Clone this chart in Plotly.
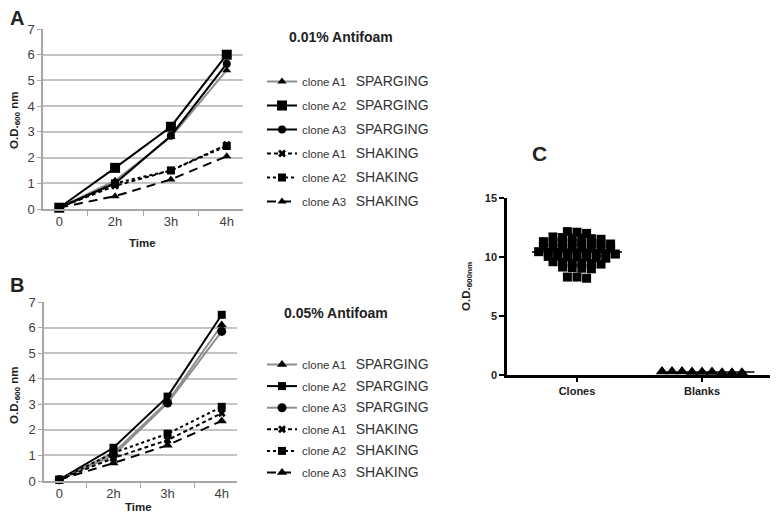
import plotly.graph_objects as go

# the page body keeps its default 8px margin, so the figure is sized to fit inside the window
OFF = 8
W, H = 778 - 2 * OFF, 523 - 2 * OFF

# ---- data ----
times = ["0", "2h", "3h", "4h"]
clone_names = ["clone A1", "clone A2", "clone A3", "clone A1", "clone A2", "clone A3"]
methods = ["SPARGING", "SPARGING", "SPARGING", "SHAKING", "SHAKING", "SHAKING"]

# panel A, 0.01% antifoam
a_sp_a1 = [0.05, 1.1, 2.8, 5.4]
a_sp_a2 = [0.05, 1.6, 3.2, 6.0]
a_sp_a3 = [0.05, 1.0, 2.85, 5.65]
a_sh_a1 = [0.05, 0.9, 1.5, 2.5]
a_sh_a2 = [0.05, 1.0, 1.5, 2.45]
a_sh_a3 = [0.05, 0.5, 1.15, 2.05]

# panel B, 0.05% antifoam
b_sp_a1 = [0.05, 1.1, 3.1, 6.1]
b_sp_a2 = [0.05, 1.3, 3.3, 6.5]
b_sp_a3 = [0.05, 1.0, 3.05, 5.85]
b_sh_a1 = [0.05, 0.9, 1.6, 2.65]
b_sh_a2 = [0.05, 1.1, 1.85, 2.9]
b_sh_a3 = [0.05, 0.7, 1.4, 2.35]

# panel C
groups = ["Clones", "Blanks"]
clones = [12.1, 12.0, 12.15,
          11.6, 11.55, 11.65, 11.6, 11.5, 11.7,
          11.2, 11.15, 11.25, 11.2, 11.1, 11.3, 11.2, 11.15,
          10.8, 10.75, 10.85, 10.8, 10.7, 10.9, 10.8, 10.75,
          10.35, 10.3, 10.4, 10.35, 10.25, 10.45, 10.35, 10.3, 10.4,
          10.0, 9.95, 10.05, 10.0, 9.9, 10.05, 10.0,
          9.5, 9.45, 9.55, 9.5, 9.4, 9.6,
          9.1, 9.05, 9.15, 9.0,
          8.3, 8.2, 8.3]
blanks = [0.2, 0.25, 0.3, 0.2, 0.25, 0.3, 0.2, 0.3, 0.25]

FONT = "Arial, Liberation Sans, sans-serif"


def px(x):
    return (x - OFF) / W


def py(y):
    return 1 - (y - OFF) / H


# styles: (line colour, dash, symbol, marker size)
GRAY = "#8e8e8e"
styles_a = [(GRAY, "solid", "triangle-up", 8),
            ("black", "solid", "square", 10),
            ("black", "solid", "circle", 8),
            ("black", "4px,3px", "x", 7),
            ("black", "dot", "square", 8),
            ("black", "9px,6px", "triangle-up", 8)]
styles_b = [(GRAY, "solid", "triangle-up", 9),
            ("black", "solid", "square", 8),
            (GRAY, "solid", "circle", 9),
            ("black", "4px,3px", "x", 7),
            ("black", "dot", "square", 8),
            ("black", "9px,6px", "triangle-up", 9)]

fig = go.Figure()


def add_panel(series, styles, xa, ya, legend, tag):
    for i, (vals, st) in enumerate(zip(series, styles)):
        col, dash, sym, size = st
        name = (clone_names[i] + "\u00a0\u00a0\u00a0"
                + "<span style='font-size:14px'>" + methods[i] + "</span>")
        fig.add_trace(go.Scatter(
            x=times, y=vals, xaxis=xa, yaxis=ya, mode="lines+markers",
            name=name, legend=legend, legendgroup=tag + str(i),
            line=dict(color=col, width=2, dash=dash),
            marker=dict(symbol=sym, size=size, color="black"),
            cliponaxis=False))


add_panel([a_sp_a1, a_sp_a2, a_sp_a3, a_sh_a1, a_sh_a2, a_sh_a3], styles_a, "x", "y", "legend", "a")
add_panel([b_sp_a1, b_sp_a2, b_sp_a3, b_sh_a1, b_sh_a2, b_sh_a3], styles_b, "x2", "y2", "legend2", "b")

# panel C geometry (page pixels), also used for the dot layout
c_dom_x = [507, 770]
c_dom_y = [375, 198]
c_xrange = [0.44, 2.544]
c_yrange = [0, 15]
ppu_x = (c_dom_x[1] - c_dom_x[0]) / (c_xrange[1] - c_xrange[0])


def dot_rows(values, spacing, row_h):
    # prism-style scatter dot plot: close values share a row, each row centred on the group
    order = sorted(range(len(values)), key=lambda k: -values[k])
    rows, cur = [], []
    for k in order:
        if cur and values[cur[0]] - values[k] >= row_h:
            rows.append(cur)
            cur = []
        cur.append(k)
    rows.append(cur)
    offs = [0.0] * len(values)
    for row in rows:
        n = len(row)
        for j, k in enumerate(row):
            offs[k] = (j - (n - 1) / 2) * spacing / ppu_x
    return offs


clone_off = dot_rows(clones, 9.6, 0.28)
blank_off = dot_rows(blanks, 10, 0.28)

fig.add_trace(go.Scatter(
    x=[1 + o for o in clone_off], y=clones, xaxis="x3", yaxis="y3", mode="markers",
    marker=dict(symbol="square", size=9, color="black"), showlegend=False, cliponaxis=False))
fig.add_trace(go.Scatter(
    x=[2 + o for o in blank_off], y=blanks, xaxis="x3", yaxis="y3", mode="markers",
    marker=dict(symbol="triangle-up", size=11, color="black"), showlegend=False, cliponaxis=False))

clone_mean = sum(clones) / len(clones)
blank_mean = sum(blanks) / len(blanks)
fig.add_trace(go.Scatter(x=[1 - 0.36, 1 + 0.36], y=[clone_mean] * 2, xaxis="x3", yaxis="y3",
                         mode="lines", line=dict(color="black", width=1.5), showlegend=False,
                         cliponaxis=False))
fig.add_trace(go.Scatter(x=[2 - 0.34, 2 + 0.42], y=[blank_mean] * 2, xaxis="x3", yaxis="y3",
                         mode="lines", line=dict(color="black", width=1.5), showlegend=False,
                         cliponaxis=False))

axcol = "#a6a6a6"
xcommon = dict(type="category", showline=True, linecolor=axcol, linewidth=1.5,
               ticks="outside", tickson="boundaries", ticklen=5, tickcolor=axcol,
               tickfont=dict(size=13, color="#404040"), showgrid=False, zeroline=False,
               automargin=False)
ycommon = dict(range=[0, 7], dtick=1, showline=True, linecolor=axcol, linewidth=1.5,
               ticks="outside", ticklen=4, tickcolor=axcol, showgrid=True,
               gridcolor="#c4c4c4", gridwidth=1.5, zeroline=False,
               tickfont=dict(size=13, color="#404040"), automargin=False)

legcommon = dict(xanchor="left", yanchor="top", bgcolor="rgba(0,0,0,0)",
                 font=dict(family=FONT, size=11.5, color="#333333"), itemwidth=30)

fig.update_layout(
    width=W, height=H, margin=dict(l=0, r=0, t=0, b=0, autoexpand=False),
    paper_bgcolor="white", plot_bgcolor="white",
    font=dict(family=FONT, color="#333333"),
    xaxis=dict(domain=[px(43), px(243)], anchor="y", **xcommon),
    yaxis=dict(domain=[py(209), py(29)], anchor="x", **ycommon),
    xaxis2=dict(domain=[px(44), px(237)], anchor="y2", **xcommon),
    yaxis2=dict(domain=[py(481), py(302)], anchor="x2", **ycommon),
    xaxis3=dict(domain=[px(c_dom_x[0]), px(c_dom_x[1])], anchor="y3", range=c_xrange,
                tickvals=[1, 2], ticktext=groups, showline=True, linecolor="black",
                linewidth=2.5, ticks="outside", ticklen=4, tickwidth=2, tickcolor="black",
                tickfont=dict(size=11, color="#222222", weight="bold"),
                showgrid=False, zeroline=False, automargin=False),
    yaxis3=dict(domain=[py(c_dom_y[0]), py(c_dom_y[1])], anchor="x3", range=c_yrange,
                tickvals=[0, 5, 10, 15], showline=True, linecolor="black", linewidth=2.5,
                ticks="outside", ticklen=5, tickwidth=2, tickcolor="black",
                tickfont=dict(size=11, color="#222222", weight="bold"),
                showgrid=False, zeroline=False, automargin=False),
    legend=dict(x=px(262), y=py(67), tracegroupgap=5, **legcommon),
    legend2=dict(x=px(262), y=py(350), tracegroupgap=2.6, **legcommon),
)

ann = [
    dict(text="<b>A</b>", x=px(8), y=py(18), size=20, ya="middle"),
    dict(text="<b>B</b>", x=px(8), y=py(285), size=20, ya="middle"),
    dict(text="<b>C</b>", x=px(530), y=py(153), size=21, ya="middle"),
    dict(text="<b>0.01% Antifoam</b>", x=px(287), y=py(37), size=14, ya="middle"),
    dict(text="<b>0.05% Antifoam</b>", x=px(282), y=py(313), size=14, ya="middle"),
    dict(text="<b>Time</b>", x=px(127), y=py(243), size=11.5, ya="middle"),
    dict(text="<b>Time</b>", x=px(123), y=0, size=11.5, ya="bottom"),
]
for a in ann:
    fig.add_annotation(text=a["text"], x=a["x"], y=a["y"], xref="paper", yref="paper",
                       xanchor="left", yanchor=a["ya"], showarrow=False,
                       font=dict(family=FONT, size=a["size"], color="#222222"))

for xc, yc, lab in [(15, 120, "<b>O.D.<sub>600</sub> nm</b>"),
                    (15, 395, "<b>O.D.<sub>600</sub> nm</b>"),
                    (467, 287, "<b>O.D.<sub>600nm</sub></b>")]:
    fig.add_annotation(text=lab, x=px(xc), y=py(yc), xref="paper", yref="paper",
                       textangle=-90, showarrow=False, xanchor="center", yanchor="middle",
                       font=dict(family=FONT, size=11.5, color="#222222"))

fig.write_html("out.html")
